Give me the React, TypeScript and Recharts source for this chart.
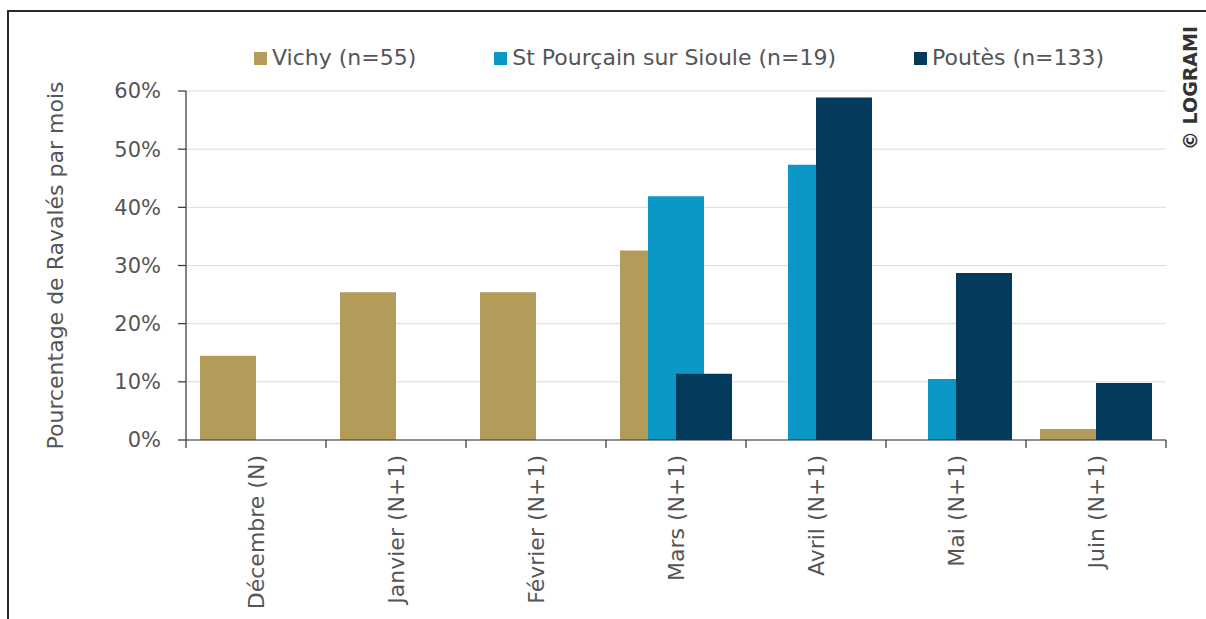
import React from 'react';
import { BarChart, Bar, XAxis, YAxis, CartesianGrid } from 'recharts';

// Mois (catégories de l'axe X)
const months = ['Décembre (N)', 'Janvier (N+1)', 'Février (N+1)', 'Mars (N+1)', 'Avril (N+1)', 'Mai (N+1)', 'Juin (N+1)'];

// Pourcentage de ravalés par mois, par site
const vichy = [14.5, 25.4, 25.4, 32.6, 0, 0, 1.9];
const stPourcain = [0, 0, 0, 41.9, 47.3, 10.5, 0];
const poutes = [0, 0, 0, 11.4, 58.9, 28.7, 9.8];

const yTicks = [0, 10, 20, 30, 40, 50, 60];

const series = [
  { key: 'vichy', label: 'Vichy (n=55)', color: '#b39b59' },
  { key: 'stPourcain', label: 'St Pourçain sur Sioule (n=19)', color: '#0a98c6' },
  { key: 'poutes', label: 'Poutès (n=133)', color: '#043a5c' },
];

const data = months.map((month, i) => ({
  month,
  vichy: vichy[i],
  stPourcain: stPourcain[i],
  poutes: poutes[i],
}));

const FONT = "'DejaVu Sans', sans-serif";
const TEXT = '#555555';
const TICK_SIZE = 8;
const TICK_MARGIN = 7;

// label tourné + petits traits aux limites des catégories
const MonthTick = (props: any) => {
  const { x, y, payload, index } = props;
  const half = payload.offset || 0;
  const axisY = y - TICK_SIZE - TICK_MARGIN;
  const isLast = index === months.length - 1;
  return (
    <g>
      <line x1={x - half} x2={x - half} y1={axisY} y2={axisY + TICK_SIZE} stroke="#333" strokeWidth={1.2} />
      {isLast && (
        <line x1={x + half} x2={x + half} y1={axisY} y2={axisY + TICK_SIZE} stroke="#333" strokeWidth={1.2} />
      )}
      <text
        x={x}
        y={y}
        dy="0.35em"
        transform={`rotate(-90, ${x}, ${y})`}
        textAnchor="end"
        fill={TEXT}
        fontSize={22}
        fontFamily={FONT}
      >
        {payload.value}
      </text>
    </g>
  );
};

export default function App() {
  return (
    <div style={{ position: 'absolute', left: 0, top: 0, width: 1206, height: 619, background: '#fff' }}>
      {/* cadre */}
      <div
        style={{
          position: 'absolute',
          left: 7,
          top: 10,
          width: 1199,
          height: 609,
          borderTop: '2px solid #2a2a2a',
          borderLeft: '2px solid #2a2a2a',
          boxSizing: 'border-box',
        }}
      />

      {/* légende */}
      <div
        style={{
          position: 'absolute',
          left: 254,
          top: 44,
          display: 'flex',
          alignItems: 'center',
          gap: 78,
          fontFamily: FONT,
          fontSize: 22,
          color: TEXT,
          lineHeight: '28px',
          whiteSpace: 'nowrap',
        }}
      >
        {series.map((s) => (
          <div key={s.key} style={{ display: 'flex', alignItems: 'center' }}>
            <span style={{ width: 13, height: 13, background: s.color, display: 'inline-block', marginRight: 5 }} />
            <span>{s.label}</span>
          </div>
        ))}
      </div>

      {/* copyright */}
      <div
        style={{
          position: 'absolute',
          left: 1190 - 80,
          top: 88 - 11,
          width: 160,
          height: 22,
          lineHeight: '22px',
          textAlign: 'center',
          transform: 'rotate(-90deg)',
          fontFamily: "'DejaVu Sans', sans-serif",
          fontWeight: 'bold',
          fontSize: 19,
          color: '#333',
          whiteSpace: 'nowrap',
        }}
      >
        © LOGRAMI
      </div>

      <BarChart
        width={1206}
        height={619}
        data={data}
        margin={{ top: 91, right: 40, left: 0, bottom: 0 }}
        barSize={56}
        barGap={-28}
        style={{ position: 'absolute', left: 0, top: 0 }}
      >
        <CartesianGrid vertical={false} stroke="#dcdcdc" strokeWidth={1} />
        <XAxis
          dataKey="month"
          height={179}
          interval={0}
          axisLine={{ stroke: '#333', strokeWidth: 1.2 }}
          tickLine={false}
          tickSize={TICK_SIZE}
          tickMargin={TICK_MARGIN}
          tick={<MonthTick />}
        />
        <YAxis
          width={186}
          domain={[0, 60]}
          ticks={yTicks}
          interval={0}
          tickFormatter={(v) => `${v}%`}
          axisLine={{ stroke: '#333', strokeWidth: 1.2 }}
          tickLine={{ stroke: '#333', strokeWidth: 1.2 }}
          tickSize={8}
          tickMargin={17}
          tick={{ fill: TEXT, fontSize: 21, fontFamily: FONT }}
          label={{
            value: 'Pourcentage de Ravalés par mois',
            angle: -90,
            position: 'insideLeft',
            offset: 55,
            style: { textAnchor: 'middle', fill: TEXT, fontSize: 22, fontFamily: FONT },
          }}
        />
        <YAxis
          yAxisId="right"
          orientation="right"
          width={0}
          domain={[0, 60]}
          axisLine={{ stroke: '#d4d4d4', strokeWidth: 1 }}
          tick={false}
          tickLine={false}
        />
        {series.map((s) => (
          <Bar key={s.key} dataKey={s.key} fill={s.color} isAnimationActive={false} />
        ))}
      </BarChart>
    </div>
  );
}
